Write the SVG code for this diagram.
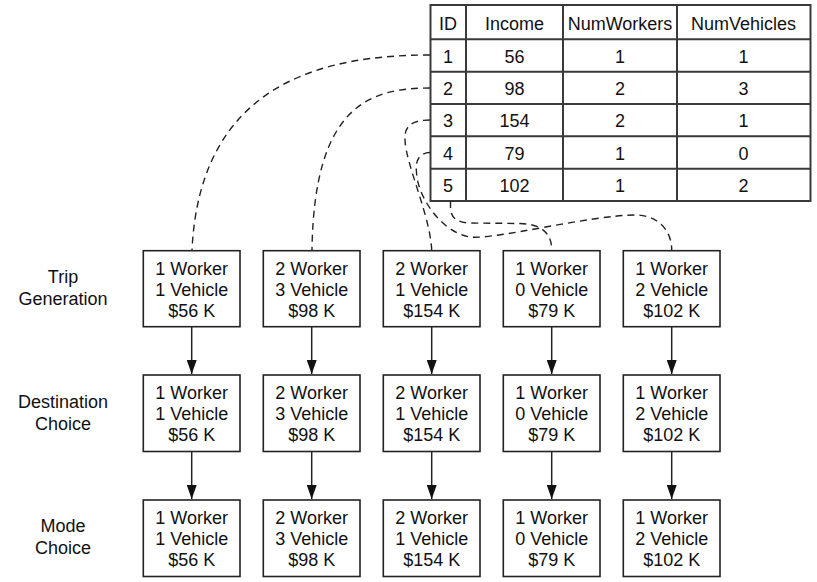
<svg xmlns="http://www.w3.org/2000/svg" width="817" height="582" viewBox="0 0 817 582">
<style>
text{font-family:"Liberation Sans",Arial,Helvetica,sans-serif;font-size:18px;fill:#111;text-anchor:middle}
.box{fill:#fff;stroke:#222;stroke-width:1.6}
.tbl{fill:none;stroke:#3a3a3a;stroke-width:2}
.dash{fill:none;stroke:#222;stroke-width:1.4;stroke-dasharray:7,5}
.arr{fill:none;stroke:#222;stroke-width:1.5;marker-end:url(#ah)}
</style>
<defs>
<marker id="ah" markerUnits="userSpaceOnUse" markerWidth="14" markerHeight="10" refX="14" refY="5" orient="auto" viewBox="0 0 14 10">
<path d="M0,0 L14,5 L0,10 Z" fill="#111"/>
</marker>
</defs>
<rect width="817" height="582" fill="#fff"/>

<g id="table">
<rect class="tbl" x="430.5" y="5" width="380" height="196"/>
<path class="tbl" d="M466,5V201M563,5V201M677,5V201M430.5,39.3H810.5M430.5,71.7H810.5M430.5,104H810.5M430.5,136.3H810.5M430.5,168.7H810.5"/>
<text x="448" y="29.5">ID</text><text x="514.5" y="29.5">Income</text><text x="620" y="29.5">NumWorkers</text><text x="743.5" y="29.5">NumVehicles</text>
<text x="448" y="62.5">1</text><text x="514.5" y="62.5">56</text><text x="620" y="62.5">1</text><text x="743.5" y="62.5">1</text>
<text x="448" y="94.8">2</text><text x="514.5" y="94.8">98</text><text x="620" y="94.8">2</text><text x="743.5" y="94.8">3</text>
<text x="448" y="127.2">3</text><text x="514.5" y="127.2">154</text><text x="620" y="127.2">2</text><text x="743.5" y="127.2">1</text>
<text x="448" y="159.5">4</text><text x="514.5" y="159.5">79</text><text x="620" y="159.5">1</text><text x="743.5" y="159.5">0</text>
<text x="448" y="191.9">5</text><text x="514.5" y="191.9">102</text><text x="620" y="191.9">1</text><text x="743.5" y="191.9">2</text>
</g>

<g id="labels">
<text x="63" y="283">Trip</text><text x="63" y="305">Generation</text>
<text x="63" y="408">Destination</text><text x="63" y="430">Choice</text>
<text x="63" y="532">Mode</text><text x="63" y="554">Choice</text>
</g>

<g id="connectors">
<path class="dash" d="M430,55 C320,55 200,85 192,250"/>
<path class="dash" d="M430,88 C370,88 314,105 312,250"/>
<path class="dash" d="M430,120 C412,120 404,126 405,140 C406,165 430,215 431.7,250"/>
<path class="dash" d="M430,152.5 C420,152.5 415,160 416.5,172 C417,195 440,232 470,237 C495,240 590,215 636,215 C655,215 671.7,228 671.7,250"/>
<path class="dash" d="M450.5,201 L450.5,208 C450.5,218 458,223 470,223 L520,223.5 C540,224 551.7,232 551.7,250"/>
<path class="arr" d="M191.7,327V374"/>
<path class="arr" d="M311.7,327V374"/>
<path class="arr" d="M431.7,327V374"/>
<path class="arr" d="M551.7,327V374"/>
<path class="arr" d="M671.7,327V374"/>
<path class="arr" d="M191.7,452V499"/>
<path class="arr" d="M311.7,452V499"/>
<path class="arr" d="M431.7,452V499"/>
<path class="arr" d="M551.7,452V499"/>
<path class="arr" d="M671.7,452V499"/>
</g>

<g id="tg1"><rect class="box" x="143.3" y="250.7" width="96.7" height="76"/><text x="191.7" y="274.5">1 Worker</text><text x="191.7" y="295.5">1 Vehicle</text><text x="191.7" y="316.5">$56 K</text></g>
<g id="tg2"><rect class="box" x="263.3" y="250.7" width="96.7" height="76"/><text x="311.7" y="274.5">2 Worker</text><text x="311.7" y="295.5">3 Vehicle</text><text x="311.7" y="316.5">$98 K</text></g>
<g id="tg3"><rect class="box" x="383.3" y="250.7" width="96.7" height="76"/><text x="431.7" y="274.5">2 Worker</text><text x="431.7" y="295.5">1 Vehicle</text><text x="431.7" y="316.5">$154 K</text></g>
<g id="tg4"><rect class="box" x="503.3" y="250.7" width="96.7" height="76"/><text x="551.7" y="274.5">1 Worker</text><text x="551.7" y="295.5">0 Vehicle</text><text x="551.7" y="316.5">$79 K</text></g>
<g id="tg5"><rect class="box" x="623.3" y="250.7" width="96.7" height="76"/><text x="671.7" y="274.5">1 Worker</text><text x="671.7" y="295.5">2 Vehicle</text><text x="671.7" y="316.5">$102 K</text></g>

<g id="dc1"><rect class="box" x="143.3" y="375" width="96.7" height="76.5"/><text x="191.7" y="399">1 Worker</text><text x="191.7" y="420">1 Vehicle</text><text x="191.7" y="441">$56 K</text></g>
<g id="dc2"><rect class="box" x="263.3" y="375" width="96.7" height="76.5"/><text x="311.7" y="399">2 Worker</text><text x="311.7" y="420">3 Vehicle</text><text x="311.7" y="441">$98 K</text></g>
<g id="dc3"><rect class="box" x="383.3" y="375" width="96.7" height="76.5"/><text x="431.7" y="399">2 Worker</text><text x="431.7" y="420">1 Vehicle</text><text x="431.7" y="441">$154 K</text></g>
<g id="dc4"><rect class="box" x="503.3" y="375" width="96.7" height="76.5"/><text x="551.7" y="399">1 Worker</text><text x="551.7" y="420">0 Vehicle</text><text x="551.7" y="441">$79 K</text></g>
<g id="dc5"><rect class="box" x="623.3" y="375" width="96.7" height="76.5"/><text x="671.7" y="399">1 Worker</text><text x="671.7" y="420">2 Vehicle</text><text x="671.7" y="441">$102 K</text></g>

<g id="mc1"><rect class="box" x="143.3" y="500" width="96.7" height="76.5"/><text x="191.7" y="524">1 Worker</text><text x="191.7" y="545">1 Vehicle</text><text x="191.7" y="566">$56 K</text></g>
<g id="mc2"><rect class="box" x="263.3" y="500" width="96.7" height="76.5"/><text x="311.7" y="524">2 Worker</text><text x="311.7" y="545">3 Vehicle</text><text x="311.7" y="566">$98 K</text></g>
<g id="mc3"><rect class="box" x="383.3" y="500" width="96.7" height="76.5"/><text x="431.7" y="524">2 Worker</text><text x="431.7" y="545">1 Vehicle</text><text x="431.7" y="566">$154 K</text></g>
<g id="mc4"><rect class="box" x="503.3" y="500" width="96.7" height="76.5"/><text x="551.7" y="524">1 Worker</text><text x="551.7" y="545">0 Vehicle</text><text x="551.7" y="566">$79 K</text></g>
<g id="mc5"><rect class="box" x="623.3" y="500" width="96.7" height="76.5"/><text x="671.7" y="524">1 Worker</text><text x="671.7" y="545">2 Vehicle</text><text x="671.7" y="566">$102 K</text></g>
</svg>
